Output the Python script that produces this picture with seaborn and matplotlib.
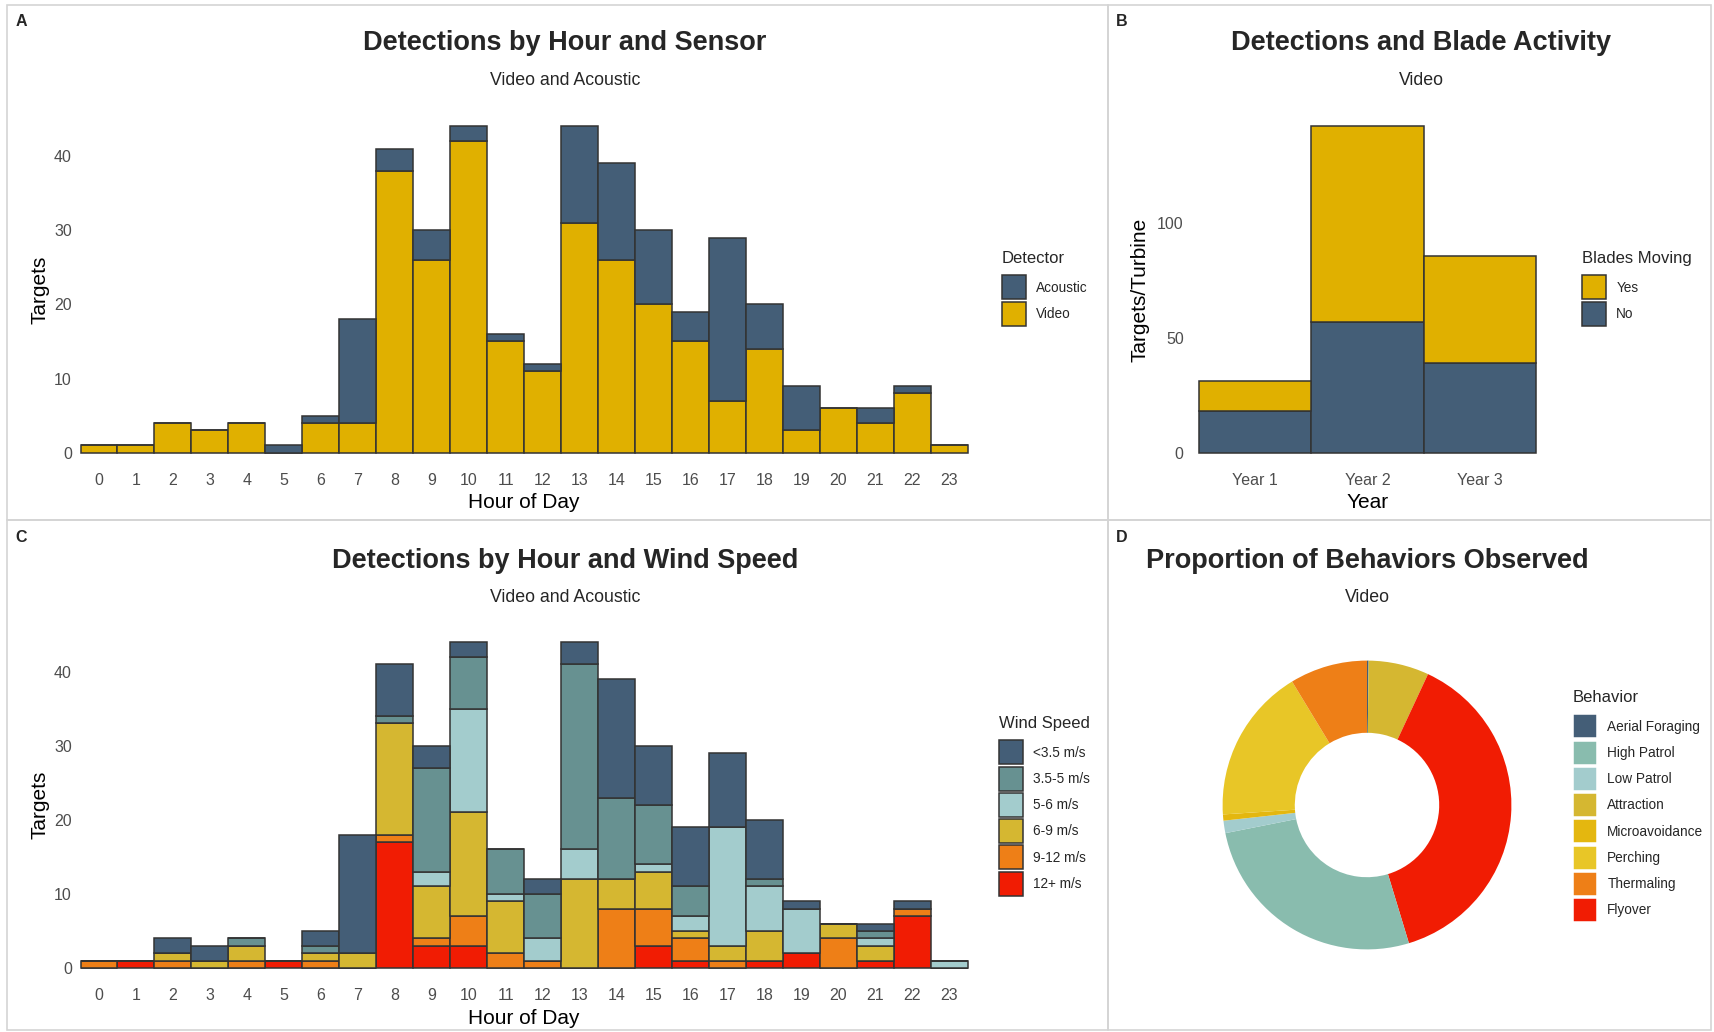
import numpy as np
import pandas as pd
import matplotlib
matplotlib.use("Agg")
import matplotlib.pyplot as plt
from matplotlib.patches import Patch, Rectangle
import seaborn as sns

# ---------------- data ----------------
hours = list(range(24))
video_counts = [1, 1, 4, 3, 4, 0, 4, 4, 38, 26, 42, 15, 11, 31, 26, 20, 15, 7, 14, 3, 6, 4, 8, 1]
acoustic_counts = [0, 0, 0, 0, 0, 1, 1, 14, 3, 4, 2, 1, 1, 13, 13, 10, 4, 22, 6, 6, 0, 2, 1, 0]

wind_levels = ["<3.5 m/s", "3.5-5 m/s", "5-6 m/s", "6-9 m/s", "9-12 m/s", "12+ m/s"]
wind_lt35 = [0, 0, 2, 2, 0, 0, 2, 16, 7, 3, 2, 0, 2, 3, 16, 8, 8, 10, 8, 1, 0, 1, 1, 0]
wind_35_5 = [0, 0, 0, 0, 1, 0, 1, 0, 1, 14, 7, 6, 6, 25, 11, 8, 4, 0, 1, 0, 0, 1, 0, 0]
wind_5_6 = [0, 0, 0, 0, 0, 0, 0, 0, 0, 2, 14, 1, 3, 4, 0, 1, 2, 16, 6, 6, 0, 1, 0, 1]
wind_6_9 = [0, 0, 1, 1, 2, 0, 1, 2, 15, 7, 14, 7, 0, 12, 4, 5, 1, 2, 4, 0, 2, 2, 0, 0]
wind_9_12 = [1, 0, 1, 0, 1, 0, 1, 0, 1, 1, 4, 2, 1, 0, 8, 5, 3, 1, 0, 0, 4, 0, 1, 0]
wind_12p = [0, 1, 0, 0, 0, 1, 0, 0, 17, 3, 3, 0, 0, 0, 0, 3, 1, 0, 1, 2, 0, 1, 7, 0]

years = ["Year 1", "Year 2", "Year 3"]
blades_yes = [13, 85, 46.5]
blades_no = [18, 57, 39]

behaviors = ["Aerial Foraging", "Attraction", "Flyover", "High Patrol",
             "Low Patrol", "Microavoidance", "Perching", "Thermaling"]
behavior_counts = [1, 39, 221, 153, 8, 4, 100, 50]
behavior_legend_order = ["Aerial Foraging", "High Patrol", "Low Patrol", "Attraction",
                         "Microavoidance", "Perching", "Thermaling", "Flyover"]

# ---------------- colours ----------------
DARK = "#445e77"
GOLD = "#e0b000"
wind_colors = {"<3.5 m/s": DARK, "3.5-5 m/s": "#679191", "5-6 m/s": "#a3cccd",
               "6-9 m/s": "#d5b731", "9-12 m/s": "#ee7f17", "12+ m/s": "#f11c03"}
behavior_colors = {"Aerial Foraging": DARK, "High Patrol": "#89bcae", "Low Patrol": "#a3cccd",
                   "Attraction": "#d5b731", "Microavoidance": "#e4b70f", "Perching": "#e8c627",
                   "Thermaling": "#ee7f17", "Flyover": "#f11c03"}
EDGE = "#333333"
TICK = "#4d4d4d"

sns.set_theme(style="white")
plt.rcParams["font.family"] = ["Liberation Sans", "DejaVu Sans"]

W, H = 1715, 1032
fig = plt.figure(figsize=(W / 100, H / 100), dpi=100)


def box(l, t, r, b):
    return [l / W, 1 - b / H, (r - l) / W, (b - t) / H]


def style_axes(ax):
    sns.despine(ax=ax, left=True, bottom=True)
    ax.tick_params(length=0, labelsize=11.5, labelcolor=TICK, pad=3)
    ax.grid(False)


def add_legend(ax, labels, colors, title, x, y, edge=EDGE):
    handles = [Patch(facecolor=colors[l], edgecolor=edge, linewidth=1.1, label=l) for l in labels]
    leg = ax.legend(handles=handles, title=title, loc="upper left",
                    bbox_to_anchor=(x / W, 1 - y / H), bbox_transform=fig.transFigure,
                    frameon=False, fontsize=9.8, title_fontsize=12,
                    handlelength=1.77, handleheight=2.34, handletextpad=0.75,
                    labelspacing=0.16, borderpad=0, borderaxespad=0, alignment="left")
    # gap between the legend title and the first key
    leg._legend_box.sep = 6.8
    return leg


def panel_text(x, y, title, subtitle, tag, tx, ty):
    fig.text(x / W, 1 - y / H, title, ha="center", va="center", fontsize=19.5, weight="bold")
    fig.text(x / W, 1 - (y + 37) / H, subtitle, ha="center", va="center", fontsize=12.8)
    fig.text(tx / W, 1 - ty / H, tag, ha="center", va="center", fontsize=11.5, weight="bold")


# panel frames
for (l, t, r, b) in [(7, 5, 1108, 520), (1108, 5, 1711, 520), (7, 520, 1108, 1030), (1108, 520, 1711, 1030)]:
    fig.add_artist(Rectangle((l / W, 1 - b / H), (r - l) / W, (b - t) / H, transform=fig.transFigure,
                             fill=False, edgecolor="#d4d4d4", linewidth=1.2))

# ---------------- A: detections by hour and sensor ----------------
axA = fig.add_axes(box(76.1, 110, 972.0, 469))
dfA = pd.DataFrame({"hour": hours * 2,
                    "Detector": ["Acoustic"] * 24 + ["Video"] * 24,
                    "count": acoustic_counts + video_counts})
sns.histplot(data=dfA, x="hour", weights="count", hue="Detector", hue_order=["Acoustic", "Video"],
             multiple="stack", discrete=True, shrink=1, palette={"Acoustic": DARK, "Video": GOLD},
             alpha=1, edgecolor=EDGE, linewidth=1.1, legend=False, ax=axA)
axA.set_xlim(-0.62, 23.62)
axA.set_ylim(-2.2, 46.2)
axA.set_xticks(hours)
axA.set_yticks([0, 10, 20, 30, 40])
style_axes(axA)
axA.set_xlabel("Hour of Day", fontsize=15, color="black")
axA.set_ylabel("Targets", fontsize=15, color="black")
axA.xaxis.set_label_coords(0.5, -0.068)
axA.yaxis.set_label_coords(-0.030, 0.5)
add_legend(axA, ["Acoustic", "Video"], {"Acoustic": DARK, "Video": GOLD}, "Detector", 1002, 251)
panel_text(565, 43.5, "Detections by Hour and Sensor", "Video and Acoustic", "A", 21, 21)

# ---------------- B: detections and blade activity ----------------
axB = fig.add_axes(box(1187.8, 110, 1547.2, 469))
dfB = pd.DataFrame({"Year": years * 2,
                    "Blades Moving": ["Yes"] * 3 + ["No"] * 3,
                    "value": blades_yes + blades_no})
sns.histplot(data=dfB, x="Year", weights="value", hue="Blades Moving", hue_order=["Yes", "No"],
             multiple="stack", discrete=True, shrink=1, palette={"Yes": GOLD, "No": DARK},
             alpha=1, edgecolor=EDGE, linewidth=1.1, legend=False, ax=axB)
axB.set_xlim(-0.6, 2.6)
axB.set_ylim(-7.1, 149.1)
axB.set_yticks([0, 50, 100])
style_axes(axB)
axB.set_xlabel("Year", fontsize=15, color="black")
axB.set_ylabel("Targets/Turbine", fontsize=15, color="black")
axB.xaxis.set_label_coords(0.5, -0.068)
axB.yaxis.set_label_coords(-0.106, 0.5)
add_legend(axB, ["Yes", "No"], {"Yes": GOLD, "No": DARK}, "Blades Moving", 1582, 251)
panel_text(1421, 43.5, "Detections and Blade Activity", "Video", "B", 1122, 21)

# ---------------- C: detections by hour and wind speed ----------------
axC = fig.add_axes(box(76.1, 625.6, 972.0, 984.3))
wind_series = [wind_lt35, wind_35_5, wind_5_6, wind_6_9, wind_9_12, wind_12p]
dfC = pd.DataFrame({"hour": hours * len(wind_levels),
                    "Wind Speed": [lvl for lvl in wind_levels for _ in hours],
                    "count": [v for s in wind_series for v in s]})
sns.histplot(data=dfC, x="hour", weights="count", hue="Wind Speed", hue_order=wind_levels,
             multiple="stack", discrete=True, shrink=1, palette=wind_colors,
             alpha=1, edgecolor=EDGE, linewidth=1.1, legend=False, ax=axC)
axC.set_xlim(-0.62, 23.62)
axC.set_ylim(-2.2, 46.2)
axC.set_xticks(hours)
axC.set_yticks([0, 10, 20, 30, 40])
style_axes(axC)
axC.set_xlabel("Hour of Day", fontsize=15, color="black")
axC.set_ylabel("Targets", fontsize=15, color="black")
axC.xaxis.set_label_coords(0.5, -0.068)
axC.yaxis.set_label_coords(-0.030, 0.5)
add_legend(axC, wind_levels, wind_colors, "Wind Speed", 999, 716)
panel_text(565, 560.5, "Detections by Hour and Wind Speed", "Video and Acoustic", "C", 21, 537)

# ---------------- D: proportion of behaviours ----------------
axD = fig.add_axes(box(1222.6, 660.6, 1511.4, 949.4))
axD.pie(behavior_counts, colors=[behavior_colors[b] for b in behaviors], startangle=90,
        counterclock=False, radius=1.0, wedgeprops=dict(width=0.5, edgecolor="none", linewidth=0))
axD.set_xlim(-1, 1)
axD.set_ylim(-1, 1)
axD.set_aspect("equal")
axD.axis("off")
add_legend(axD, behavior_legend_order, behavior_colors, "Behavior", 1573, 690, edge="white")
panel_text(1367, 560.5, "Proportion of Behaviors Observed", "Video", "D", 1122, 537)

fig.savefig("out.png", dpi=100)
